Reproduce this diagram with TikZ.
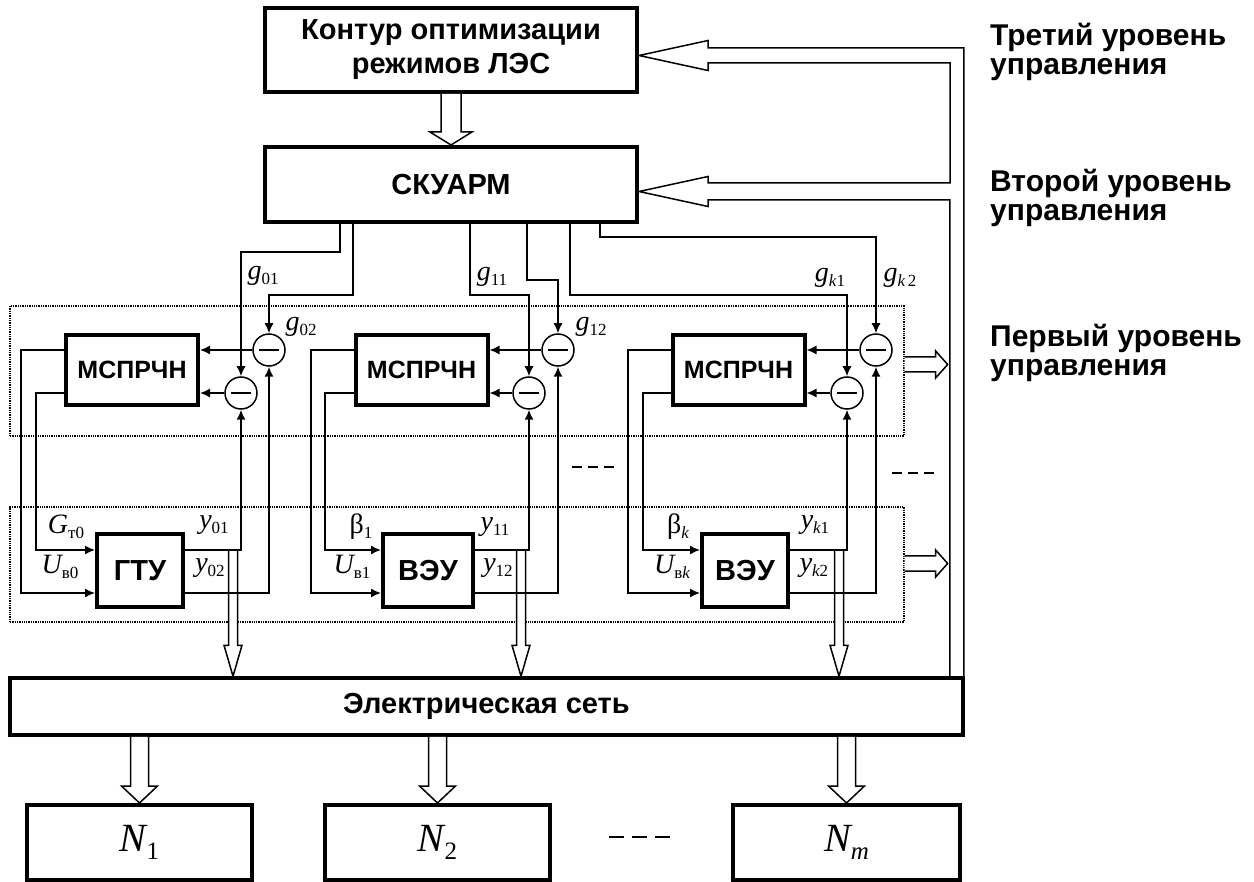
\documentclass[tikz,border=0pt]{standalone}
\usepackage{fontspec}
\setmainfont{Liberation Serif}
\newfontfamily\arial{Liberation Sans}
\usetikzlibrary{arrows.meta,calc}

\newcommand\idx[1]{\raisebox{-5pt}{\fontsize{17}{17}\selectfont\upshape #1}}
\newcommand\idxN[1]{\raisebox{-8pt}{\fontsize{25}{25}\selectfont\upshape #1}}
% hollow arrows: tail, tip, half shaft, half head, head length
\newcommand\fatdown[5]{\draw[fat] let \p1=#1, \p2=#2 in
  (\x2-#3,\y1) -- (\x2-#3,\y2+#5) -- (\x2-#4,\y2+#5) -- (\p2)
  -- (\x2+#4,\y2+#5) -- (\x2+#3,\y2+#5) -- (\x2+#3,\y1);}
\newcommand\fatright[5]{\draw[fat] let \p1=#1, \p2=#2 in
  (\x1,\y2+#3) -- (\x2-#5,\y2+#3) -- (\x2-#5,\y2+#4) -- (\p2)
  -- (\x2-#5,\y2-#4) -- (\x2-#5,\y2-#3) -- (\x1,\y2-#3);}

\tikzset{
  blk/.style={draw,line width=4pt,inner sep=0pt,align=center,
    font=\arial\bfseries\fontsize{29}{34}\selectfont},
  cmp/.style={draw,circle,line width=1.5pt,minimum size=32pt,inner sep=0pt,
    path picture={\draw[line width=1.5pt]
      ([xshift=-10pt]path picture bounding box.center) --
      ([xshift=10pt]path picture bounding box.center);}},
  wire/.style={line width=1.5pt},
  sig/.style={wire,-{Latex[length=10pt,width=9pt]}},
  fat/.style={line width=1.5pt,fill=white},
  zone/.style={draw,densely dotted,line width=1.3pt,inner sep=0pt},
  gap/.style={line width=1.3pt,dash pattern=on 10pt off 6pt},
  lbl/.style={inner sep=0pt,font=\fontsize{28}{28}\selectfont\itshape},
  lvl/.style={anchor=north west,align=left,inner sep=0pt,
    font=\arial\bfseries\fontsize{30}{29}\selectfont},
}

\begin{document}
\begin{tikzpicture}[x=1pt,y=1pt]
\useasboundingbox (0,0) rectangle (1254,-882);

% upper levels
\node[blk,minimum width=372pt,minimum height=84pt] (ctrl) at (451,-50) {Контур оптимизации\\режимов ЛЭС};
\node[blk,minimum width=372pt,minimum height=75pt] (skuarm) at (451,-184.5) {СКУАРМ};
\fatdown{(ctrl.south)}{(skuarm.north)}{10}{21}{13}

% first level zones
\node[zone,minimum width=894pt,minimum height=130pt] (zone1) at (457,-371) {};
\node[zone,minimum width=894pt,minimum height=115pt] (zone2) at (457,-564.5) {};
\fatright{($(zone1.east)+(0,6.5)$)}{($(zone1.east)+(43,6.5)$)}{7.5}{13.5}{12}
\fatright{($(zone2.east)+(0,1)$)}{($(zone2.east)+(43,1)$)}{7.5}{13.5}{12}

% regulators and units
\node[blk,font=\arial\bfseries\fontsize{25}{25}\selectfont,minimum width=132pt,minimum height=70pt] (msp0) at (132,-370) {МСПРЧН};
\node[blk,font=\arial\bfseries\fontsize{25}{25}\selectfont,minimum width=132pt,minimum height=70pt] (msp1) at (421.5,-370) {МСПРЧН};
\node[blk,font=\arial\bfseries\fontsize{25}{25}\selectfont,minimum width=132pt,minimum height=70pt] (mspk) at (738.5,-370) {МСПРЧН};
\node[blk,minimum width=86pt,minimum height=73pt] (gtu) at (140,-570.5) {ГТУ};
\node[blk,minimum width=90pt,minimum height=73pt] (veu1) at (428,-570.5) {ВЭУ};
\node[blk,minimum width=86pt,minimum height=73pt] (veuk) at (745,-570.5) {ВЭУ};

\node[cmp] (c01) at (241,-393) {};
\node[cmp] (c02) at (269,-350) {};
\node[cmp] (c11) at (529,-393) {};
\node[cmp] (c12) at (558,-350) {};
\node[cmp] (ck1) at (847,-393) {};
\node[cmp] (ck2) at (876,-350) {};

% network and loads
\node[blk,line width=3.5pt,minimum width=953pt,minimum height=57pt] (net) at (486.5,-706.5) {Электрическая сеть};
\node[blk,font=\fontsize{40}{40}\selectfont\itshape,minimum width=225pt,minimum height=75pt] (n1) at (139.5,-842.5) {N\idxN{1}};
\node[blk,font=\fontsize{40}{40}\selectfont\itshape,minimum width=225pt,minimum height=75pt] (n2) at (437.5,-842.5) {N\idxN{2}};
\node[blk,font=\fontsize{40}{40}\selectfont\itshape,minimum width=227pt,minimum height=75pt] (nm) at (846.5,-842.5) {N\idxN{\itshape m}};

% power flows
\fatdown{($(gtu.east)+(0,20.5)$)}{($(c01 |- net.north)+(-8,0)$)}{4.5}{9}{31}
\fatdown{($(veu1.east)+(0,20.5)$)}{($(c11 |- net.north)+(-8,0)$)}{4.5}{9}{31}
\fatdown{($(veuk.east)+(0,20.5)$)}{($(ck1 |- net.north)+(-8,0)$)}{4.5}{9}{31}
\fatdown{(net.south -| n1.north)}{(n1.north)}{9}{18}{17}
\fatdown{(net.south -| n2.north)}{(n2.north)}{9}{18}{17}
\fatdown{(net.south -| nm.north)}{(nm.north)}{9}{18}{17}

% feedback from the network
\coordinate (tipA) at ($(ctrl.east)+(0,-5.5)$);
\coordinate (tipB) at ($(skuarm.east)+(0,-7)$);
\draw[wire] ($(net.north east)+(-1,0)$) |- ($(tipA)+(69,7.5)$) -- ++(0,7.5) -- (tipA)
  -- ++(69,-15) -- ++(0,7.5) -| ($(tipB)+(311,8.5)$) -- ++(-242,0) -- ++(0,6.5) -- (tipB)
  -- ++(69,-15) -- ++(0,6.5) -| ($(net.north east)+(-15,0)$);

% set points
\draw[sig] ($(skuarm.south west)+(77,0)$) -- ++(0,-28) -| (c01.north);
\draw[sig] ($(skuarm.south west)+(90,0)$) -- ++(0,-71) -| (c02.north);
\draw[sig] ($(skuarm.south west)+(207,0)$) -- ++(0,-71) -| (c11.north);
\draw[sig] ($(skuarm.south west)+(264,0)$) -- ++(0,-56) -| (c12.north);
\draw[sig] ($(skuarm.south west)+(307,0)$) -- ++(0,-71) -| (ck1.north);
\draw[sig] ($(skuarm.south west)+(337,0)$) -- ++(0,-13) -| (ck2.north);

% errors
\draw[sig] (c02.west) -- (c02.west -| msp0.east);
\draw[sig] (c01.west) -- (c01.west -| msp0.east);
\draw[sig] (c12.west) -- (c12.west -| msp1.east);
\draw[sig] (c11.west) -- (c11.west -| msp1.east);
\draw[sig] (ck2.west) -- (ck2.west -| mspk.east);
\draw[sig] (ck1.west) -- (ck1.west -| mspk.east);

% control actions
\draw[sig] (msp0.west |- c02) -- ++(-43,0) |- ($(gtu.west)+(0,-22.5)$);
\draw[sig] (msp0.west |- c01) -- ++(-28,0) |- ($(gtu.west)+(0,20.5)$);
\draw[sig] (msp1.west |- c02) -- ++(-42.5,0) |- ($(veu1.west)+(0,-22.5)$);
\draw[sig] (msp1.west |- c01) -- ++(-28.5,0) |- ($(veu1.west)+(0,20.5)$);
\draw[sig] (mspk.west |- c02) -- ++(-42.5,0) |- ($(veuk.west)+(0,-22.5)$);
\draw[sig] (mspk.west |- c01) -- ++(-27.5,0) |- ($(veuk.west)+(0,20.5)$);

% measured outputs
\draw[sig] ($(gtu.east)+(0,20.5)$) -| (c01.south);
\draw[sig] ($(gtu.east)+(0,-22.5)$) -| (c02.south);
\draw[sig] ($(veu1.east)+(0,20.5)$) -| (c11.south);
\draw[sig] ($(veu1.east)+(0,-22.5)$) -| (c12.south);
\draw[sig] ($(veuk.east)+(0,20.5)$) -| (ck1.south);
\draw[sig] ($(veuk.east)+(0,-22.5)$) -| (ck2.south);

% labels
\node[lbl] at (263,-276) {g\idx{01}};
\node[lbl] at (301,-327) {g\idx{02}};
\node[lbl] at (492,-277) {g\idx{11}};
\node[lbl] at (591,-327) {g\idx{12}};
\node[lbl] at (830,-278) {g\idx{\itshape k\upshape 1}};
\node[lbl] at (900,-278) {g\idx{\itshape k\,\upshape 2}};
\node[lbl] at (66,-527) {G\idx{т0}};
\node[lbl] at (60,-567) {U\idx{в0}};
\node[lbl] at (214,-525) {y\idx{01}};
\node[lbl] at (210,-568) {y\idx{02}};
\node[lbl] at (361,-527) {{\upshape β}\idx{1}};
\node[lbl] at (352,-567) {U\idx{в1}};
\node[lbl] at (495,-527) {y\idx{11}};
\node[lbl] at (498,-568) {y\idx{12}};
\node[lbl] at (678,-527) {{\upshape β}\idx{\itshape k}};
\node[lbl] at (672,-567) {U\idx{в\itshape k}};
\node[lbl] at (815,-525) {y\idx{\itshape k\upshape 1}};
\node[lbl] at (814,-568) {y\idx{\itshape k\upshape 2}};

\draw[gap] (572,-467) -- (614,-467);
\draw[gap] (892,-473) -- (934,-473);
\draw[gap,dash pattern=on 15pt off 8pt] (609,-837) -- (670,-837);

% control levels
\node[lvl] at (990,-23) {Третий уровень\\управления};
\node[lvl] at (990,-169) {Второй уровень\\управления};
\node[lvl] at (990,-324) {Первый уровень\\управления};
\end{tikzpicture}
\end{document}
